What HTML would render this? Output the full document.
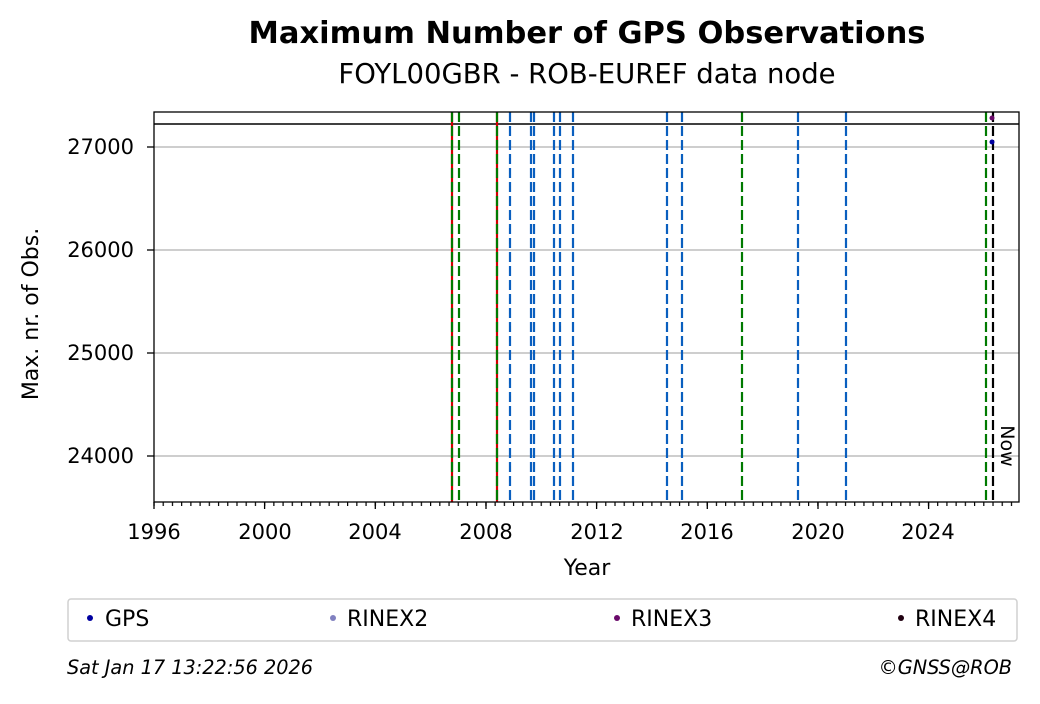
<!DOCTYPE html>
<html><head><meta charset="utf-8"><style>
body{margin:0;background:#fff;}
svg text{font-family:"DejaVu Sans","Liberation Sans",sans-serif;}
</style></head><body>
<svg width="1040" height="699" xmlns="http://www.w3.org/2000/svg">
<defs>
<pattern id="mt" x="153.4" y="0" width="9.22" height="10" patternUnits="userSpaceOnUse">
<rect x="0" y="0" width="1.2" height="10" fill="#000"/>
</pattern>
</defs>
<rect width="1040" height="699" fill="#fff"/>
<text x="587" y="43" font-size="30.5" font-weight="bold" text-anchor="middle">Maximum Number of GPS Observations</text>
<text x="587" y="83" font-size="27.5" text-anchor="middle">FOYL00GBR - ROB-EUREF data node</text>
<g stroke="#b0b0b0" stroke-width="1.3">
<line x1="154" y1="147" x2="1019" y2="147"/>
<line x1="154" y1="250" x2="1019" y2="250"/>
<line x1="154" y1="353" x2="1019" y2="353"/>
<line x1="154" y1="456" x2="1019" y2="456"/>
</g>
<line x1="154" y1="124" x2="1019" y2="124" stroke="#000" stroke-width="1.5"/>
<g stroke-width="2.2">
<line x1="452" y1="112" x2="452" y2="502" stroke="#d00000"/>
<line x1="497" y1="112" x2="497" y2="502" stroke="#d00000"/>
</g>
<g stroke-width="2.2" stroke-dasharray="10,4">
<line x1="452" y1="112" x2="452" y2="502" stroke="#007a00"/>
<line x1="497" y1="112" x2="497" y2="502" stroke="#007a00"/>
<line x1="459" y1="112" x2="459" y2="502" stroke="#007a00"/>
<line x1="742" y1="112" x2="742" y2="502" stroke="#007a00"/>
<line x1="986" y1="112" x2="986" y2="502" stroke="#007a00"/>
<line x1="993" y1="112" x2="993" y2="502" stroke="#000"/>
<g stroke="#0a5fbf">
<line x1="510" y1="112" x2="510" y2="502"/>
<line x1="531" y1="112" x2="531" y2="502"/>
<line x1="534" y1="112" x2="534" y2="502"/>
<line x1="554" y1="112" x2="554" y2="502"/>
<line x1="560" y1="112" x2="560" y2="502"/>
<line x1="573" y1="112" x2="573" y2="502"/>
<line x1="667" y1="112" x2="667" y2="502"/>
<line x1="682" y1="112" x2="682" y2="502"/>
<line x1="798" y1="112" x2="798" y2="502"/>
<line x1="846" y1="112" x2="846" y2="502"/>
</g>
</g>
<circle cx="992" cy="118" r="2.5" fill="#6a0a6a"/>
<circle cx="992" cy="142" r="2.5" fill="#0000a0"/>
<text x="1001" y="446" font-size="19" transform="rotate(90 1001 446)" text-anchor="middle">Now</text>
<rect x="154" y="112" width="865" height="390" fill="none" stroke="#000" stroke-width="1.3"/>
<g font-size="21" text-anchor="end">
<text x="134" y="154">27000</text>
<text x="134" y="257">26000</text>
<text x="134" y="360">25000</text>
<text x="134" y="463">24000</text>
</g>
<g stroke="#000" stroke-width="1.3">
<line x1="147" y1="147" x2="154" y2="147"/>
<line x1="147" y1="250" x2="154" y2="250"/>
<line x1="147" y1="353" x2="154" y2="353"/>
<line x1="147" y1="456" x2="154" y2="456"/>
</g>
<text transform="translate(38 314) rotate(-90)" font-size="22" text-anchor="middle">Max. nr. of Obs.</text>
<rect x="153" y="502" width="867" height="4" fill="url(#mt)"/>
<g stroke="#000" stroke-width="1.3">
<line x1="154" y1="502" x2="154" y2="509"/>
<line x1="264.6" y1="502" x2="264.6" y2="509"/>
<line x1="375.3" y1="502" x2="375.3" y2="509"/>
<line x1="486" y1="502" x2="486" y2="509"/>
<line x1="596.6" y1="502" x2="596.6" y2="509"/>
<line x1="707.3" y1="502" x2="707.3" y2="509"/>
<line x1="818" y1="502" x2="818" y2="509"/>
<line x1="928.6" y1="502" x2="928.6" y2="509"/>
</g>
<g font-size="21" text-anchor="middle">
<text x="154" y="539">1996</text>
<text x="265" y="539">2000</text>
<text x="375" y="539">2004</text>
<text x="486" y="539">2008</text>
<text x="597" y="539">2012</text>
<text x="707" y="539">2016</text>
<text x="818" y="539">2020</text>
<text x="928" y="539">2024</text>
</g>
<text x="587" y="575" font-size="22" text-anchor="middle">Year</text>
<rect x="68" y="599" width="949" height="42" rx="3" fill="#fff" stroke="#d0d0d0" stroke-width="1.5"/>
<g font-size="22">
<circle cx="90" cy="618" r="3" fill="#0000a0"/><text x="105" y="626">GPS</text>
<circle cx="333" cy="618" r="3" fill="#8080c0"/><text x="347" y="626">RINEX2</text>
<circle cx="617" cy="618" r="3" fill="#6a0a6a"/><text x="631" y="626">RINEX3</text>
<circle cx="901" cy="618" r="3" fill="#200010"/><text x="915" y="626">RINEX4</text>
</g>
<text x="67" y="674" font-size="19.3" font-style="italic">Sat Jan 17 13:22:56 2026</text>
<text x="1012" y="674" font-size="19.3" font-style="italic" text-anchor="end">©GNSS@ROB</text>
</svg>
</body></html>
